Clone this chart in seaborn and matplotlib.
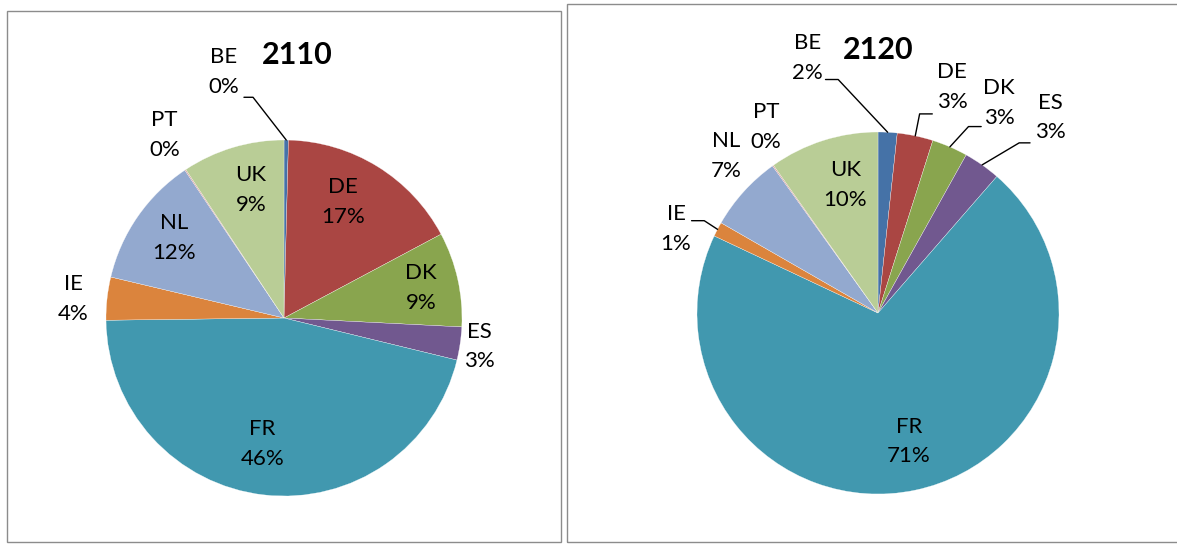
import numpy as np
import matplotlib
matplotlib.use("Agg")
import matplotlib.pyplot as plt
import seaborn as sns
from matplotlib.patches import Rectangle

# shares per country (%), clockwise from 12 o'clock
countries = ["BE", "DE", "DK", "ES", "FR", "IE", "NL", "PT", "UK"]
share_2110 = [0.4, 16.8, 8.6, 3.0, 46.0, 3.9, 11.9, 0.1, 9.3]
share_2120 = [1.7, 3.2, 3.2, 3.3, 70.6, 1.3, 6.8, 0.1, 9.8]
titles = ["2110", "2120"]

colors = ["#4572A7", "#AA4643", "#89A54E", "#71588F", "#4198AF",
          "#DB843D", "#93A9CF", "#D19392", "#B9CD96"]

sns.set_theme(style="white")
plt.rcParams["font.family"] = ["Lato", "DejaVu Sans"]

W, H = 1177, 544
LABEL_FS = 16
K = 1.5  # axes half-width in pie radii

# layout: pie centre/radius in pixels, label spots in radius units,
# leader lines as (start, elbow) in radius units
layouts = [
    {
        "center": (284, 318), "radius": 178, "title_xy": (297, 55),
        "labels": {"BE": (-0.34, 1.38), "DE": (0.33, 0.65), "DK": (0.77, 0.17),
                   "ES": (1.10, -0.16), "FR": (-0.12, -0.71), "IE": (-1.185, 0.107),
                   "NL": (-0.62, 0.45), "PT": (-0.67, 1.03), "UK": (-0.185, 0.72)},
        "leaders": {"BE": ((-0.225, 1.24), (-0.174, 1.24))},
    },
    {
        "center": (878, 313), "radius": 181, "title_xy": (878, 50),
        "labels": {"BE": (-0.39, 1.41), "DE": (0.41, 1.25), "DK": (0.67, 1.16),
                   "ES": (0.95, 1.08), "FR": (0.17, -0.71), "IE": (-1.116, 0.464),
                   "NL": (-0.84, 0.867), "PT": (-0.62, 1.03), "UK": (-0.18, 0.707)},
        "leaders": {"BE": ((-0.29, 1.29), (-0.22, 1.29)),
                    "DE": ((0.30, 1.10), (0.23, 1.10)),
                    "DK": ((0.57, 1.03), (0.50, 1.03)),
                    "ES": ((0.84, 0.94), (0.78, 0.94)),
                    "IE": ((-1.03, 0.51), (-0.96, 0.51))},
    },
]

fig = plt.figure(figsize=(W / 100, H / 100), dpi=100)
fig.patch.set_facecolor("white")

# chart frames
for x0, y0, x1, y1 in [(7, 11, 561, 542), (567, 4, 1180, 542)]:
    fig.patches.append(Rectangle((x0 / W, 1 - y1 / H), (x1 - x0) / W, (y1 - y0) / H,
                                 transform=fig.transFigure, fill=False,
                                 edgecolor="#8c8c8c", linewidth=1.0))

for shares, title, lay in zip([share_2110, share_2120], titles, layouts):
    cx, cy = lay["center"]
    r = lay["radius"]
    size = 2 * K * r
    ax = fig.add_axes([(cx - size / 2) / W, (H - cy - size / 2) / H, size / W, size / H])
    ax.pie(shares, colors=colors, startangle=90, counterclock=False, radius=1,
           wedgeprops=dict(edgecolor="white", linewidth=0.2))
    ax.set_xlim(-K, K)
    ax.set_ylim(-K, K)
    ax.set_aspect("equal")
    ax.axis("off")

    total = sum(shares)
    cum = np.cumsum([0] + shares[:-1])
    for name, start, val in zip(countries, cum, shares):
        lx, ly = lay["labels"][name]
        ax.text(lx, ly, f"{name}\n{val / total * 100:.0f}%", ha="center", va="center",
                fontsize=LABEL_FS, color="black", linespacing=1.62, clip_on=False)
        if name in lay["leaders"]:
            mid = np.deg2rad(90 - (start + val / 2) / total * 360)
            (sx, sy), (ex, ey) = lay["leaders"][name]
            ax.plot([sx, ex, np.cos(mid)], [sy, ey, np.sin(mid)], color="black",
                    linewidth=1.0, clip_on=False)

    tx, ty = lay["title_xy"]
    fig.text(tx / W, 1 - ty / H, title, ha="center", va="center",
             fontsize=22, fontweight="bold", color="black")

fig.savefig("out.png", dpi=100)
